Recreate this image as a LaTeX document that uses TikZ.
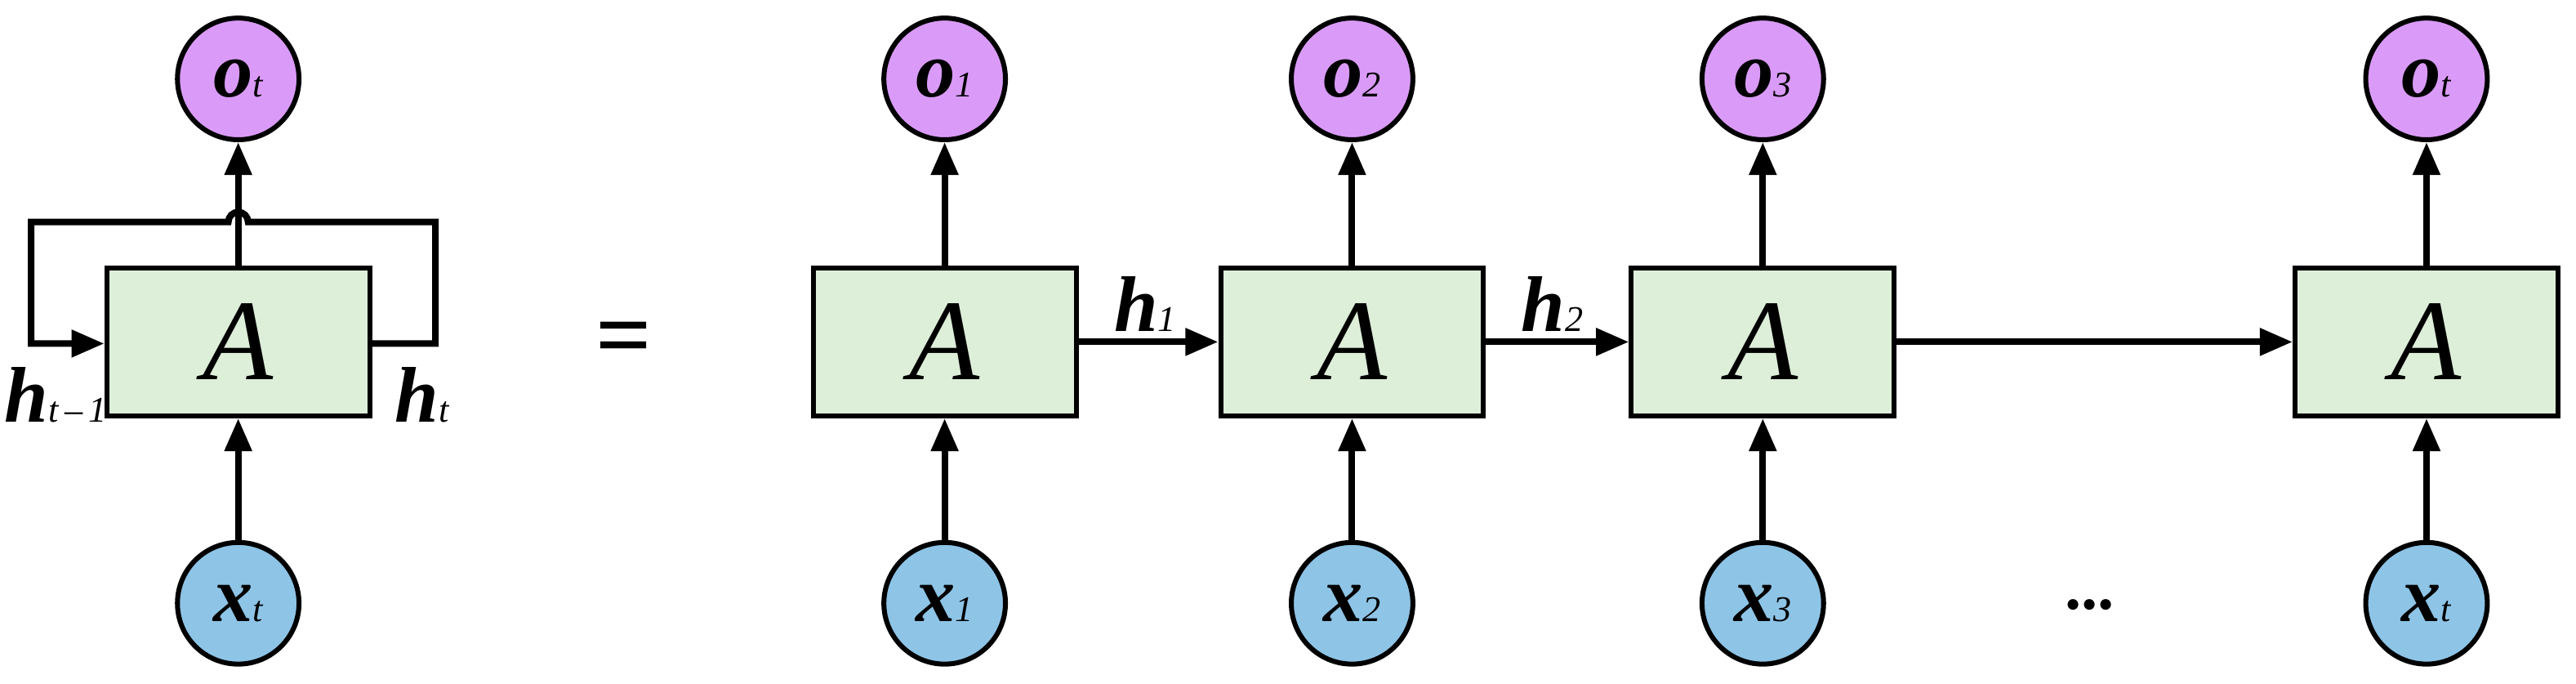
\documentclass[tikz,border=0pt]{standalone}
\usepackage{fontspec}
\setmainfont{Liberation Serif}
\usetikzlibrary{arrows.meta}
\definecolor{cp}{HTML}{DA9BF8}
\definecolor{cb}{HTML}{8EC4E6}
\definecolor{cg}{HTML}{DDEED9}
\newcommand{\varlab}[2]{{\fontsize{48}{48}\selectfont\bfseries\itshape #1}{\fontsize{22}{22}\selectfont\itshape #2}}
\begin{document}
\begin{tikzpicture}[x=1pt,y=-1pt,line width=4pt,
  circ/.style={circle,draw,minimum size=74pt,inner sep=0pt,line width=3pt},
  oc/.style={circ,fill=cp},
  xc/.style={circ,fill=cb},
  cell/.style={draw,fill=cg,minimum width=160pt,minimum height=90pt,line width=3pt,font=\fontsize{70}{70}\selectfont\itshape},
  arr/.style={-{Triangle[length=20pt,width=16pt]}},
  lab/.style={inner sep=0pt}]
\useasboundingbox (0,0) rectangle (1568,416);
% left folded
\node[cell] (A0) at (145,208) {A};
\node[oc] (o0) at (145,48) {\varlab{o}{t}};
\node[xc] (x0) at (145,367) {\varlab{x}{t}};
\draw[arr] (x0) -- (A0);
\draw[arr] (A0) -- (o0);
\coordinate (r1) at (265,209);
\coordinate (r2) at (265,135);
\coordinate (l1) at (19,135);
\coordinate (l2) at (19,209);
\draw[arr,line join=miter] (A0.east |- r1) -- (r1) -- (r2) -- (151,135) arc (0:-180:6) -- (l1) -- (l2) -- (A0.west |- l2);
\node[lab] (ht1) at (34,240) {\varlab{h}{t\,–\,1}};
\node[lab] (ht) at (257,240) {\varlab{h}{t}};
\node[lab] (eq) at (380,210) {\fontsize{60}{60}\selectfont\bfseries =};
% unrolled
\foreach \n/\cx/\s in {1/575/1,2/823/2,3/1073/3,4/1477/t}{
  \node[cell] (A\n) at (\cx,208) {A};
  \node[oc] (o\n) at (\cx,48) {\varlab{o}{\s}};
  \node[xc] (x\n) at (\cx,367) {\varlab{x}{\s}};
  \draw[arr] (x\n) -- (A\n);
  \draw[arr] (A\n) -- (o\n);
}
\draw[arr] (A1) -- (A2);
\draw[arr] (A2) -- (A3);
\draw[arr] (A3) -- (A4);
\node[lab] (h1) at (697,185) {\varlab{h}{1}};
\node[lab] (h2) at (945,185) {\varlab{h}{2}};
\node[lab] (dots) at (1272,368) {\fontsize{40}{40}\selectfont\bfseries ...};
\end{tikzpicture}
\end{document}
